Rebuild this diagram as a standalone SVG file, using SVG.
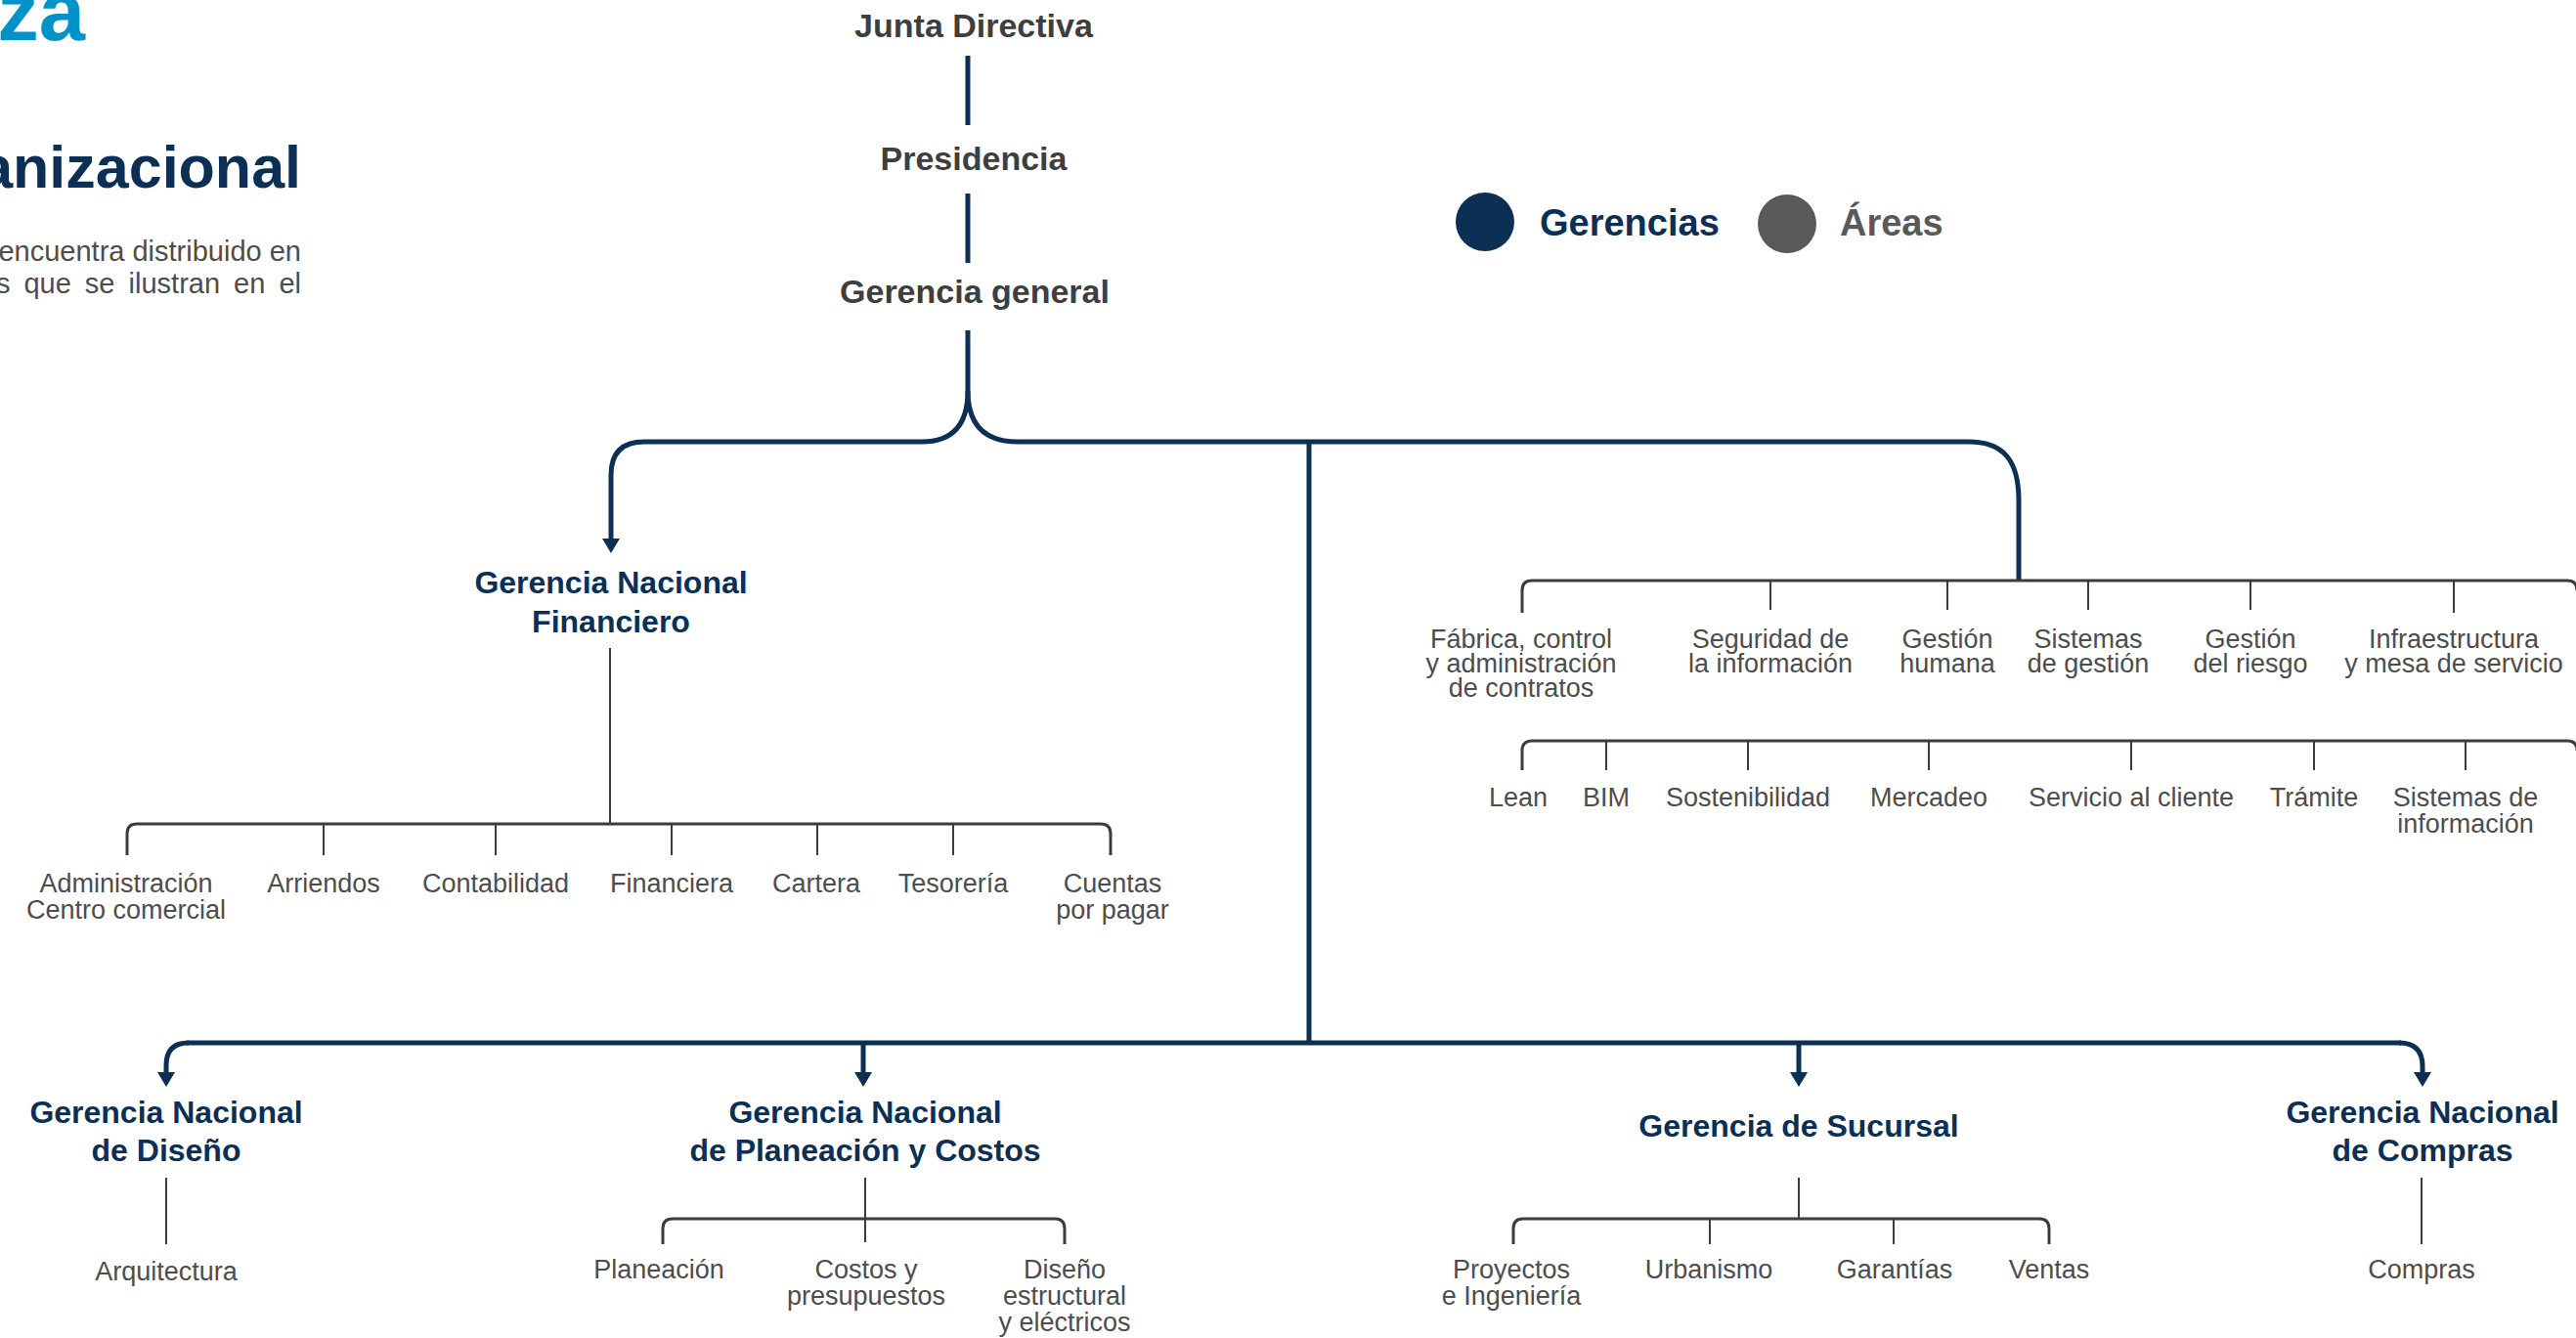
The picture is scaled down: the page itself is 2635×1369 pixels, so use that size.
<svg xmlns="http://www.w3.org/2000/svg" width="2635" height="1369" viewBox="0 0 2635 1369">
<style>
text{font-family:"Liberation Sans",Arial,sans-serif}
.top{fill:#3e3e3e;font-weight:bold;font-size:34px;text-anchor:middle}
.ger{fill:#0c2f56;font-weight:bold;font-size:32px;text-anchor:middle}
.area{fill:#4d4d4d;font-size:27px;text-anchor:middle}
.conn{stroke:#0c2f56;stroke-width:5;fill:none}
.br{stroke:#3c3c3c;stroke-width:3;fill:none}
.tk{stroke:#3c3c3c;stroke-width:2;fill:none}
</style>
<defs>
<marker id="arr" viewBox="0 0 15 18" refX="9" refY="9" markerWidth="15" markerHeight="18" markerUnits="userSpaceOnUse" orient="auto">
<path d="M0,0 L15,9 L0,18 z" fill="#0c2f56"/>
</marker>
</defs>
<rect width="2635" height="1369" fill="#ffffff"/>

<g id="header">
<text x="87" y="41" font-size="85" font-weight="bold" fill="#0093c9" text-anchor="end">za</text>
<text x="308" y="192" font-size="61" font-weight="bold" fill="#0c2f56" text-anchor="end">anizacional</text>
<text x="308" y="267" font-size="29" fill="#4d4d4d" text-anchor="end">encuentra distribuido en</text>
<text x="308" y="300" font-size="29" fill="#4d4d4d" text-anchor="end" word-spacing="6">s que se ilustran en el</text>
</g>

<g id="legend">
<circle cx="1519" cy="227" r="30" fill="#0c2f56"/>
<text x="1575" y="241" font-size="38" font-weight="bold" fill="#0c2f56">Gerencias</text>
<circle cx="1828" cy="229" r="30" fill="#58595b"/>
<text x="1882" y="241" font-size="38" font-weight="bold" fill="#58595b">Áreas</text>
</g>

<g id="connectors">
<line class="conn" x1="990" y1="57" x2="990" y2="128"/>
<line class="conn" x1="990" y1="198" x2="990" y2="269"/>
<path class="conn" d="M990 338 L990 400 Q990 452 943 452 L659 452 Q625 452 625 486 L625 560" marker-end="url(#arr)"/>
<path class="conn" d="M990 400 Q990 452 1041 452 L2014 452 C2050 452 2065 472 2065 512 L2065 594"/>
<line class="conn" x1="1339" y1="452" x2="1339" y2="1067"/>
<path class="conn" d="M191 1067 L2456 1067"/>
<path class="conn" d="M193 1067 Q170 1067 170 1090 L170 1106" marker-end="url(#arr)"/>
<path class="conn" d="M2454 1067 Q2478 1067 2478 1091 L2478 1106" marker-end="url(#arr)"/>
<line class="conn" x1="883" y1="1067" x2="883" y2="1106" marker-end="url(#arr)"/>
<line class="conn" x1="1840" y1="1067" x2="1840" y2="1106" marker-end="url(#arr)"/>

<line class="tk" x1="624" y1="663" x2="624" y2="843"/>
<path class="br" d="M130 875 L130 853 Q130 843 140 843 L1126 843 Q1136 843 1136 853 L1136 875"/>
<path class="tk" d="M331 843 V875 M507 843 V875 M687 843 V875 M836 843 V875 M975 843 V875"/>

<path class="br" d="M1557 627 L1557 604 Q1557 594 1567 594 L2626 594 Q2636 594 2636 604"/>
<path class="tk" d="M1811 594 V624 M1992 594 V624 M2136 594 V624 M2302 594 V624 M2510 594 V627"/>

<path class="br" d="M1557 788 L1557 768 Q1557 758 1567 758 L2626 758 Q2636 758 2636 768"/>
<path class="tk" d="M1643 758 V788 M1788 758 V788 M1973 758 V788 M2180 758 V788 M2367 758 V788 M2522 758 V788"/>

<line class="tk" x1="170" y1="1205" x2="170" y2="1273"/>
<line class="tk" x1="885" y1="1205" x2="885" y2="1271"/>
<path class="br" d="M678 1273 L678 1257 Q678 1247 688 1247 L1079 1247 Q1089 1247 1089 1257 L1089 1273"/>

<line class="tk" x1="1840" y1="1205" x2="1840" y2="1247"/>
<path class="br" d="M1548 1273 L1548 1257 Q1548 1247 1558 1247 L2086 1247 Q2096 1247 2096 1257 L2096 1273"/>
<path class="tk" d="M1749 1247 V1273 M1937 1247 V1273"/>

<line class="tk" x1="2477" y1="1205" x2="2477" y2="1273"/>
</g>

<g id="junta"><text class="top" x="996" y="38">Junta Directiva</text></g>
<g id="presidencia"><text class="top" x="996" y="174">Presidencia</text></g>
<g id="gerencia-general"><text class="top" x="997" y="310" font-size="35">Gerencia general</text></g>

<g id="ger-financiero"><text class="ger" x="625" y="607">Gerencia Nacional<tspan x="625" y="647">Financiero</tspan></text></g>
<g id="ger-diseno"><text class="ger" x="170" y="1149">Gerencia Nacional<tspan x="170" y="1188">de Diseño</tspan></text></g>
<g id="ger-planeacion"><text class="ger" x="885" y="1149">Gerencia Nacional<tspan x="885" y="1188">de Planeación y Costos</tspan></text></g>
<g id="ger-sucursal"><text class="ger" x="1840" y="1163">Gerencia de Sucursal</text></g>
<g id="ger-compras"><text class="ger" x="2478" y="1149">Gerencia Nacional<tspan x="2478" y="1188">de Compras</tspan></text></g>

<g id="areas-financiero">
<text class="area" x="129" y="913">Administración<tspan x="129" y="940">Centro comercial</tspan></text>
<text class="area" x="331" y="913">Arriendos</text>
<text class="area" x="507" y="913">Contabilidad</text>
<text class="area" x="687" y="913">Financiera</text>
<text class="area" x="835" y="913">Cartera</text>
<text class="area" x="975" y="913">Tesorería</text>
<text class="area" x="1138" y="913">Cuentas<tspan x="1138" y="940">por pagar</tspan></text>
</g>

<g id="areas-general-1">
<text class="area" x="1556" y="663">Fábrica, control<tspan x="1556" y="688">y administración</tspan><tspan x="1556" y="713">de contratos</tspan></text>
<text class="area" x="1811" y="663">Seguridad de<tspan x="1811" y="688">la información</tspan></text>
<text class="area" x="1992" y="663">Gestión<tspan x="1992" y="688">humana</tspan></text>
<text class="area" x="2136" y="663">Sistemas<tspan x="2136" y="688">de gestión</tspan></text>
<text class="area" x="2302" y="663">Gestión<tspan x="2302" y="688">del riesgo</tspan></text>
<text class="area" x="2510" y="663">Infraestructura<tspan x="2510" y="688">y mesa de servicio</tspan></text>
</g>

<g id="areas-general-2">
<text class="area" x="1553" y="825">Lean</text>
<text class="area" x="1643" y="825">BIM</text>
<text class="area" x="1788" y="825">Sostenibilidad</text>
<text class="area" x="1973" y="825">Mercadeo</text>
<text class="area" x="2180" y="825">Servicio al cliente</text>
<text class="area" x="2367" y="825">Trámite</text>
<text class="area" x="2522" y="825">Sistemas de<tspan x="2522" y="852">información</tspan></text>
</g>

<g id="areas-diseno"><text class="area" x="170" y="1310">Arquitectura</text></g>
<g id="areas-planeacion">
<text class="area" x="674" y="1308">Planeación</text>
<text class="area" x="886" y="1308">Costos y<tspan x="886" y="1335">presupuestos</tspan></text>
<text class="area" x="1089" y="1308">Diseño<tspan x="1089" y="1335">estructural</tspan><tspan x="1089" y="1362">y eléctricos</tspan></text>
</g>
<g id="areas-sucursal">
<text class="area" x="1546" y="1308">Proyectos<tspan x="1546" y="1335">e Ingeniería</tspan></text>
<text class="area" x="1748" y="1308">Urbanismo</text>
<text class="area" x="1938" y="1308">Garantías</text>
<text class="area" x="2096" y="1308">Ventas</text>
</g>
<g id="areas-compras"><text class="area" x="2477" y="1308">Compras</text></g>
</svg>
